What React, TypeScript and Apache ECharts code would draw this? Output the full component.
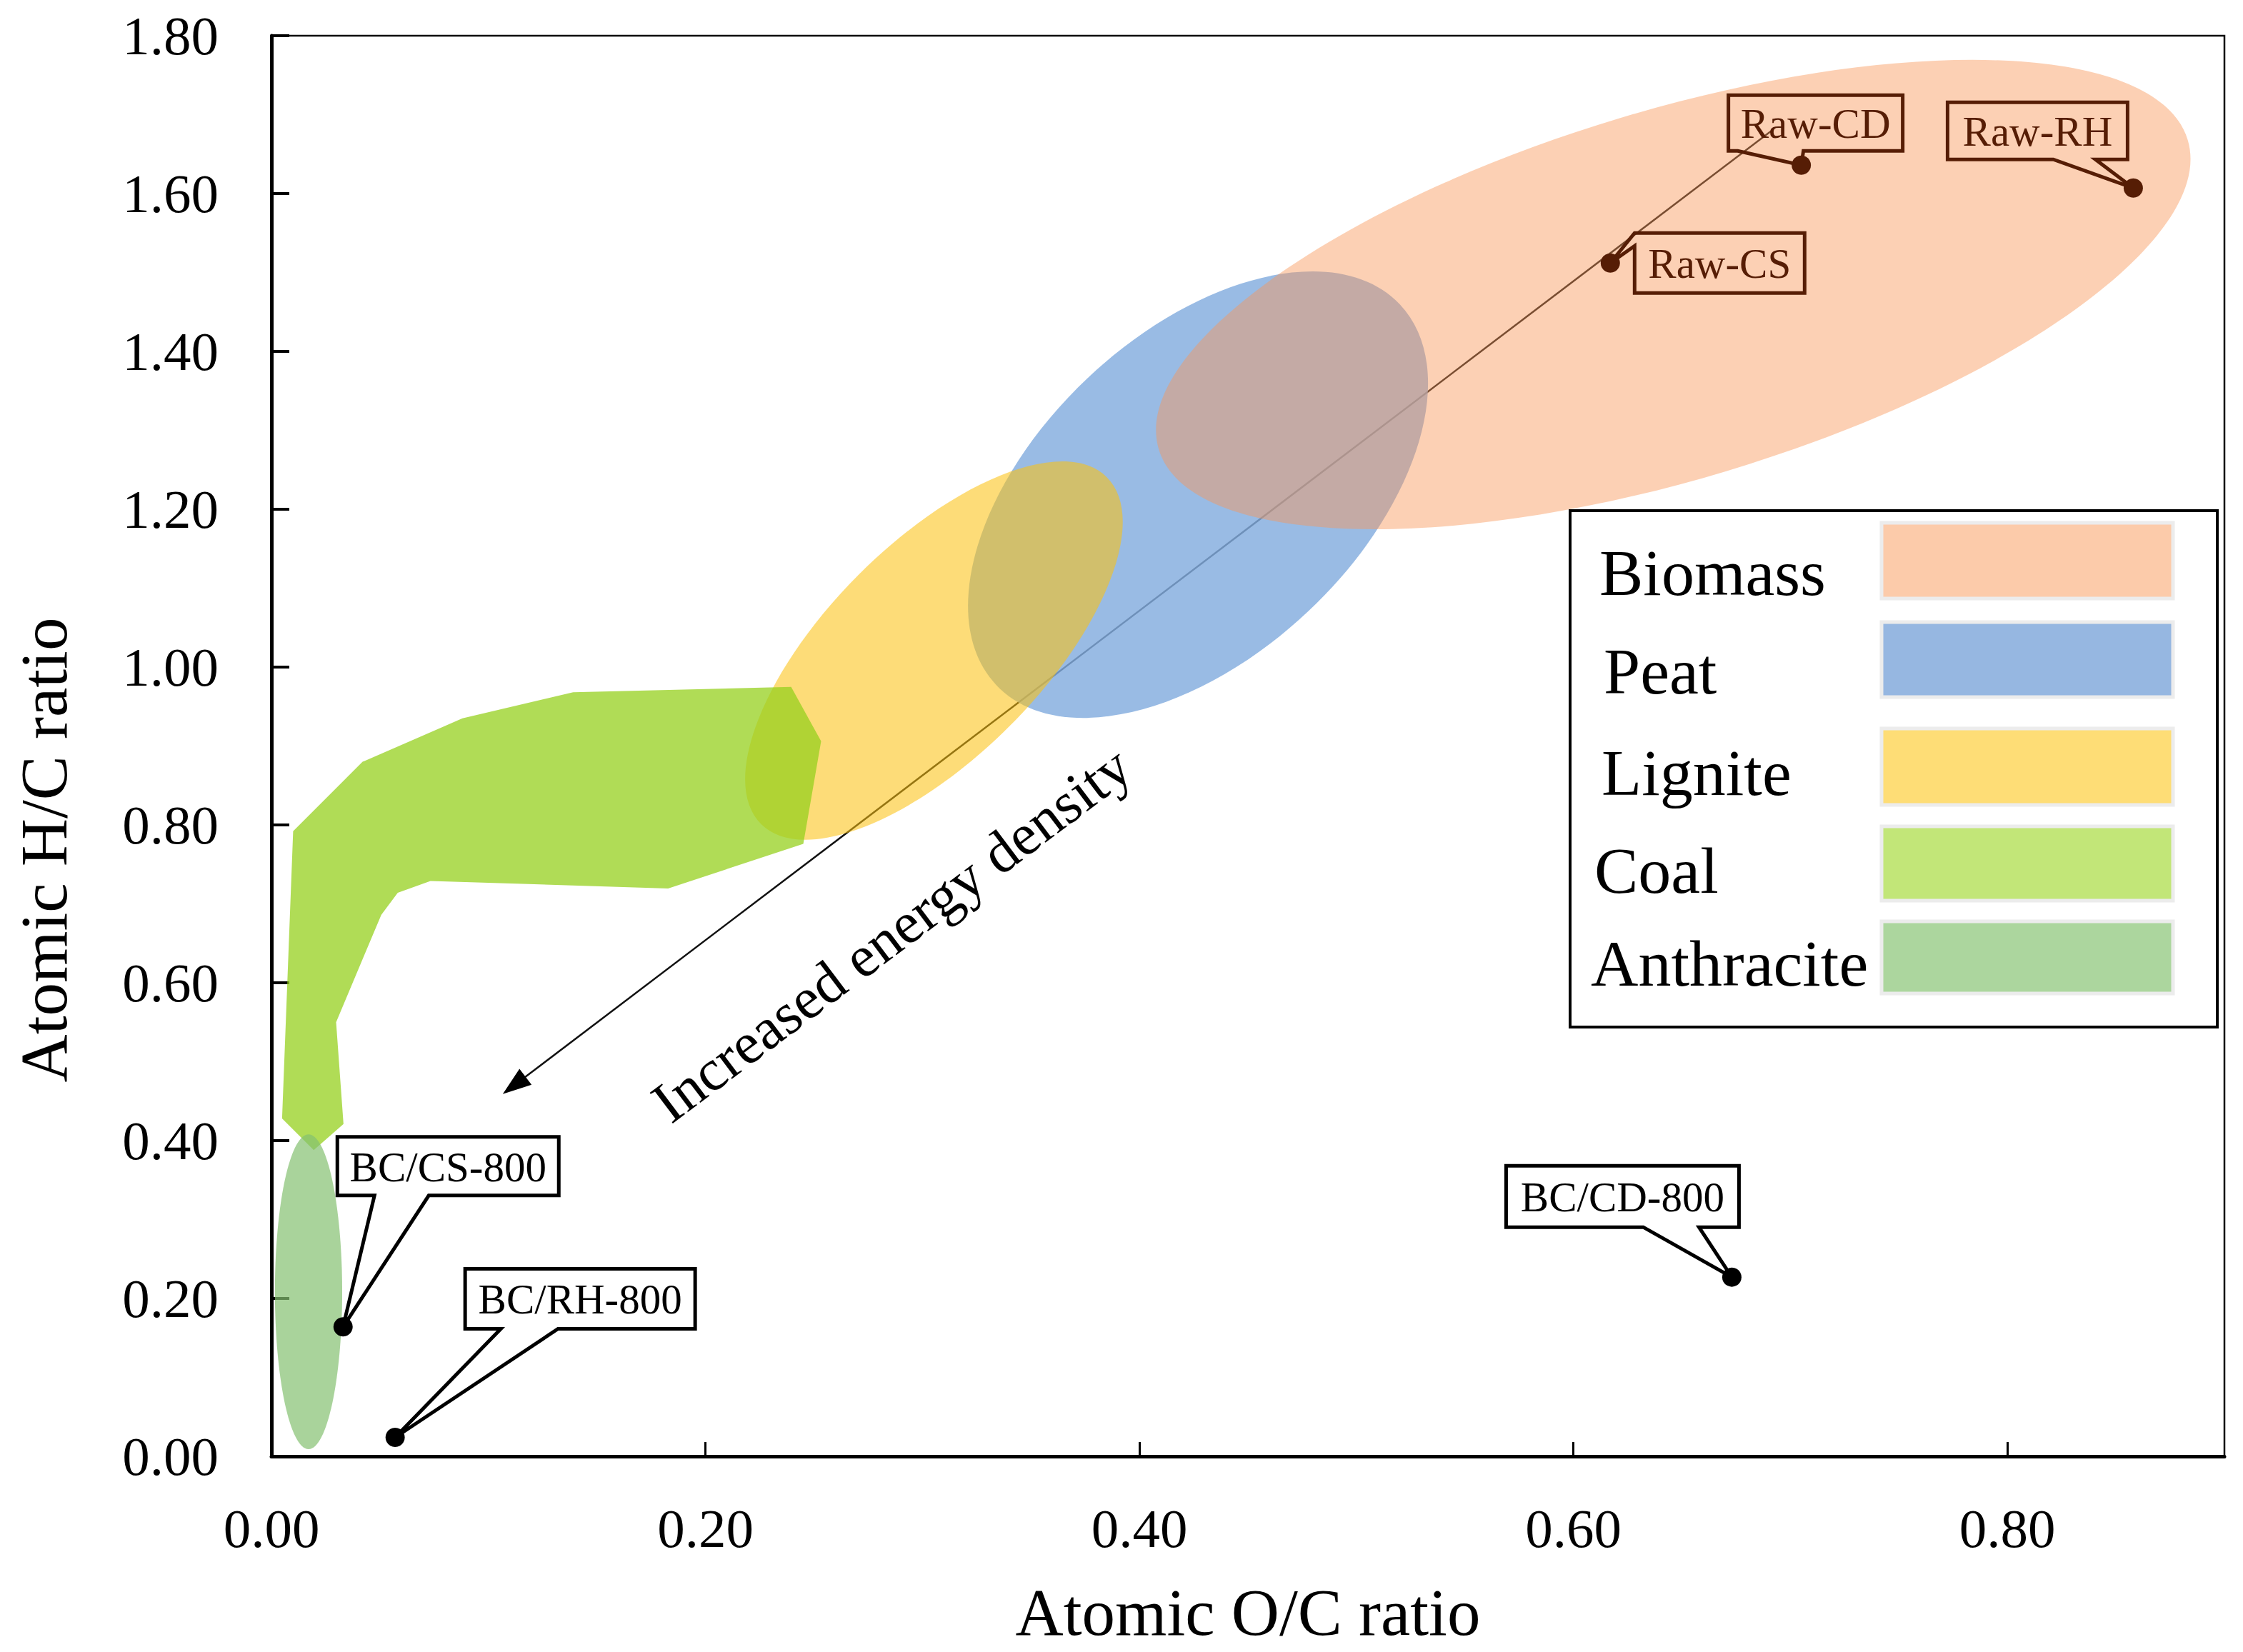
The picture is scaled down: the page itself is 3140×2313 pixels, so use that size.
import React, { useEffect, useRef } from "react";
import * as echarts from "echarts";

const FONT = '"Liberation Serif", "Times New Roman", serif';

// ---- axis ticks ----
const xTickStep = 0.2;
const yTickStep = 0.2;

// ---- fuel regions (Van Krevelen) ----
const regionNames = ["Biomass", "Peat", "Lignite", "Coal", "Anthracite"];
const regionFill = [
  "rgba(249,151,89,0.45)",
  "rgba(130,172,222,0.82)",
  "rgba(252,194,18,0.57)",
  "rgba(150,208,30,0.75)",
  "rgba(133,193,112,0.7)",
];
const legendSwatch = ["#fccbaa", "#96b7e1", "#fedd76", "#c2e678", "#acd69e"];
// ellipse = [centre O/C, centre H/C, major-end O/C, major-end H/C, minor-end O/C, minor-end H/C]
const biomassEllipse = [0.646, 1.472, 0.883, 1.668, 0.622, 1.696];
const peatEllipse = [0.427, 1.2185, 0.52, 1.4595, 0.3764, 1.3668];
const ligniteEllipse = [0.3053, 1.0209, 0.385, 1.2406, 0.2705, 1.1168];
const anthraciteEllipse = [0.0171, 0.2085, 0.0171, 0.408, 0.0326, 0.2085];
// coal band outline
const coalOC = [0.01, 0.042, 0.088, 0.139, 0.2395, 0.2533, 0.2451, 0.1828, 0.0733, 0.0582, 0.0506, 0.0298, 0.0332, 0.0195, 0.0049];
const coalHC = [0.792, 0.88, 0.935, 0.968, 0.975, 0.906, 0.776, 0.7195, 0.729, 0.714, 0.686, 0.55, 0.421, 0.388, 0.428];

// ---- samples ----
const sampleNames = ["Raw-CD", "Raw-RH", "Raw-CS", "BC/CS-800", "BC/RH-800", "BC/CD-800"];
const sampleOC = [0.705, 0.858, 0.617, 0.033, 0.057, 0.673];
const sampleHC = [1.636, 1.607, 1.512, 0.164, 0.024, 0.227];

// ---- energy-density arrow ----
const arrowFrom = [0.691, 1.679];
const arrowTo = [0.1066, 0.459];

// ---- callout layout (pixel offsets from the point) ----
type Callout = { box: number[]; side: "bottom" | "left"; legs: number[] };
const calloutLayout: Record<string, Callout> = {
  "Raw-CD": { box: [-102, -98, 142, -20], side: "bottom", legs: [-89, 3] },
  "Raw-RH": { box: [-260, -120, -8, -40], side: "bottom", legs: [-112, -53] },
  "Raw-CS": { box: [34, -42, 272, 42], side: "left", legs: [-42, -24] },
  "BC/CS-800": { box: [-8, -266, 302, -184], side: "bottom", legs: [44, 120] },
  "BC/RH-800": { box: [98, -236, 420, -152], side: "bottom", legs: [148, 228] },
  "BC/CD-800": { box: [-316, -156, 10, -70], side: "bottom", legs: [-124, -46] },
};
const RAW_COLOR = "#561d05";

function ellipseSeries(name: string, e: number[], fill: string) {
  return {
    name,
    type: "custom",
    coordinateSystem: "cartesian2d",
    silent: true,
    encode: { x: 0, y: 1 },
    data: [e],
    renderItem: (_p: any, api: any) => {
      const c = api.coord([api.value(0), api.value(1)]);
      const m = api.coord([api.value(2), api.value(3)]);
      const n = api.coord([api.value(4), api.value(5)]);
      const rx = Math.hypot(m[0] - c[0], m[1] - c[1]);
      const ry = Math.hypot(n[0] - c[0], n[1] - c[1]);
      const ang = Math.atan2(-(m[1] - c[1]), m[0] - c[0]);
      return {
        type: "ellipse",
        x: c[0],
        y: c[1],
        rotation: ang,
        shape: { cx: 0, cy: 0, rx, ry },
        style: { fill },
      };
    },
  };
}

export default function App() {
  const ref = useRef<HTMLDivElement>(null);
  useEffect(() => {
    document.body.style.margin = "0";
    if (!ref.current) return;
    const chart = echarts.init(ref.current, undefined, { renderer: "svg" });

    const legendRows = [
      { y0: 732, y1: 838, tx: 2239, ty: 802 },
      { y0: 871, y1: 976, tx: 2245, ty: 940 },
      { y0: 1020, y1: 1127, tx: 2242, ty: 1082 },
      { y0: 1157, y1: 1261, tx: 2232, ty: 1219 },
      { y0: 1290, y1: 1391, tx: 2227, ty: 1349 },
    ];
    const legendGraphics: any[] = [
      {
        type: "rect",
        z: 100,
        shape: { x: 2198, y: 715, width: 906, height: 723 },
        style: { fill: "#fff", stroke: "#000", lineWidth: 4 },
      },
    ];
    regionNames.forEach((nm, i) => {
      const r = legendRows[i];
      legendGraphics.push({
        type: "rect",
        z: 101,
        shape: { x: 2634, y: r.y0, width: 408, height: r.y1 - r.y0 },
        style: { fill: legendSwatch[i], stroke: "#ececec", lineWidth: 5 },
      });
      legendGraphics.push({
        type: "text",
        z: 101,
        x: r.tx,
        y: r.ty,
        style: {
          text: nm,
          font: `92px ${FONT}`,
          fill: "#000",
          align: "left",
          verticalAlign: "middle",
        },
      });
    });

    const option: any = {
      animation: false,
      backgroundColor: "#fff",
      grid: {
        left: 380,
        right: 26,
        top: 50,
        bottom: 274,
        show: true,
        borderColor: "#000",
        borderWidth: 2.5,
        backgroundColor: "transparent",
      },
      xAxis: {
        type: "value",
        min: 0,
        max: 0.9,
        interval: xTickStep,
        name: "Atomic O/C ratio",
        nameLocation: "middle",
        nameGap: 172,
        nameTextStyle: { fontSize: 93, fontFamily: FONT, color: "#000" },
        axisLine: { show: true, onZero: false, lineStyle: { color: "#000", width: 5 } },
        axisTick: { show: true, inside: true, length: 20, lineStyle: { color: "#000", width: 3 } },
        axisLabel: {
          margin: 62,
          fontSize: 77,
          fontFamily: FONT,
          color: "#000",
          showMaxLabel: false,
          formatter: (v: number) => v.toFixed(2),
        },
        splitLine: { show: false },
      },
      yAxis: {
        type: "value",
        min: 0,
        max: 1.8,
        interval: yTickStep,
        name: "Atomic H/C ratio",
        nameLocation: "middle",
        nameGap: 272,
        nameRotate: 90,
        nameTextStyle: { fontSize: 93, fontFamily: FONT, color: "#000", padding: [0, 291, 0, 0] },
        axisLine: { show: true, onZero: false, lineStyle: { color: "#000", width: 5 } },
        axisTick: { show: true, inside: true, length: 25, lineStyle: { color: "#000", width: 4 } },
        axisLabel: {
          margin: 74,
          fontSize: 77,
          fontFamily: FONT,
          color: "#000",
          formatter: (v: number) => v.toFixed(2),
        },
        splitLine: { show: false },
      },
      series: [
        {
          name: "Increased energy density",
          type: "custom",
          coordinateSystem: "cartesian2d",
          silent: true,
          encode: { x: 0, y: 1 },
          data: [[arrowFrom[0], arrowFrom[1], arrowTo[0], arrowTo[1]]],
          renderItem: (_p: any, api: any) => {
            const p0 = api.coord([api.value(0), api.value(1)]);
            const p1 = api.coord([api.value(2), api.value(3)]);
            const dx = p1[0] - p0[0];
            const dy = p1[1] - p0[1];
            const len = Math.hypot(dx, dy);
            const ux = dx / len;
            const uy = dy / len;
            const L = 40;
            const hw = 14;
            const bx = p1[0] - ux * L;
            const by = p1[1] - uy * L;
            return {
              type: "group",
              children: [
                {
                  type: "line",
                  shape: { x1: p0[0], y1: p0[1], x2: bx + ux * 4, y2: by + uy * 4 },
                  style: { stroke: "#111", lineWidth: 2.5 },
                },
                {
                  type: "polygon",
                  shape: {
                    points: [
                      [p1[0], p1[1]],
                      [bx - uy * hw, by + ux * hw],
                      [bx + uy * hw, by - ux * hw],
                    ],
                  },
                  style: { fill: "#000" },
                },
              ],
            };
          },
        },
        ellipseSeries("Peat", peatEllipse, regionFill[1]),
        ellipseSeries("Biomass", biomassEllipse, regionFill[0]),
        ellipseSeries("Lignite", ligniteEllipse, regionFill[2]),
        {
          name: "Coal",
          type: "custom",
          coordinateSystem: "cartesian2d",
          silent: true,
          encode: { x: 0, y: 1 },
          data: coalOC.map((x, i) => [x, coalHC[i]]),
          renderItem: (params: any, api: any) => {
            if (params.dataIndex !== 0) return null;
            const pts = coalOC.map((x, i) => api.coord([x, coalHC[i]]));
            return { type: "polygon", shape: { points: pts }, style: { fill: regionFill[3] } };
          },
        },
        ellipseSeries("Anthracite", anthraciteEllipse, regionFill[4]),
        {
          name: "Labels",
          type: "custom",
          coordinateSystem: "cartesian2d",
          silent: true,
          encode: { x: 0, y: 1 },
          data: sampleOC.map((x, i) => [x, sampleHC[i]]),
          renderItem: (params: any, api: any) => {
            const name = sampleNames[params.dataIndex];
            const lay = calloutLayout[name];
            const p = api.coord([api.value(0), api.value(1)]);
            const [L, T, R, B] = lay.box;
            let rel: number[][];
            if (lay.side === "bottom") {
              rel = [[L, T], [R, T], [R, B], [lay.legs[1], B], [0, 0], [lay.legs[0], B], [L, B]];
            } else {
              rel = [[L, T], [R, T], [R, B], [L, B], [L, lay.legs[1]], [0, 0], [L, lay.legs[0]]];
            }
            const color = name.startsWith("Raw") ? RAW_COLOR : "#000";
            return {
              type: "group",
              children: [
                {
                  type: "polygon",
                  shape: { points: rel.map((q) => [p[0] + q[0], p[1] + q[1]]) },
                  style: { fill: "none", stroke: color, lineWidth: 5, lineJoin: "miter" },
                },
                {
                  type: "text",
                  x: p[0] + (L + R) / 2,
                  y: p[1] + (T + B) / 2 + 1,
                  style: {
                    text: name,
                    font: `59px ${FONT}`,
                    fill: color,
                    align: "center",
                    verticalAlign: "middle",
                  },
                },
              ],
            };
          },
        },
        {
          name: "Raw",
          type: "scatter",
          symbol: "circle",
          symbolSize: 27,
          itemStyle: { color: RAW_COLOR, opacity: 1 },
          data: sampleOC.map((x, i) => [x, sampleHC[i]]).filter((_, i) => sampleNames[i].startsWith("Raw")),
        },
        {
          name: "Biochar",
          type: "scatter",
          symbol: "circle",
          symbolSize: 27,
          itemStyle: { color: "#000", opacity: 1 },
          data: sampleOC.map((x, i) => [x, sampleHC[i]]).filter((_, i) => sampleNames[i].startsWith("BC")),
        },
      ],
      graphic: [
        ...legendGraphics,
        {
          type: "text",
          z: 100,
          x: 1248,
          y: 1308,
          rotation: (37 * Math.PI) / 180,
          style: {
            text: "Increased energy density",
            font: `82px ${FONT}`,
            fill: "#000",
            align: "center",
            verticalAlign: "middle",
          },
        },
      ],
    };
    chart.setOption(option);
    return () => chart.dispose();
  }, []);
  return <div ref={ref} style={{ width: 3140, height: 2313 }} />;
}
